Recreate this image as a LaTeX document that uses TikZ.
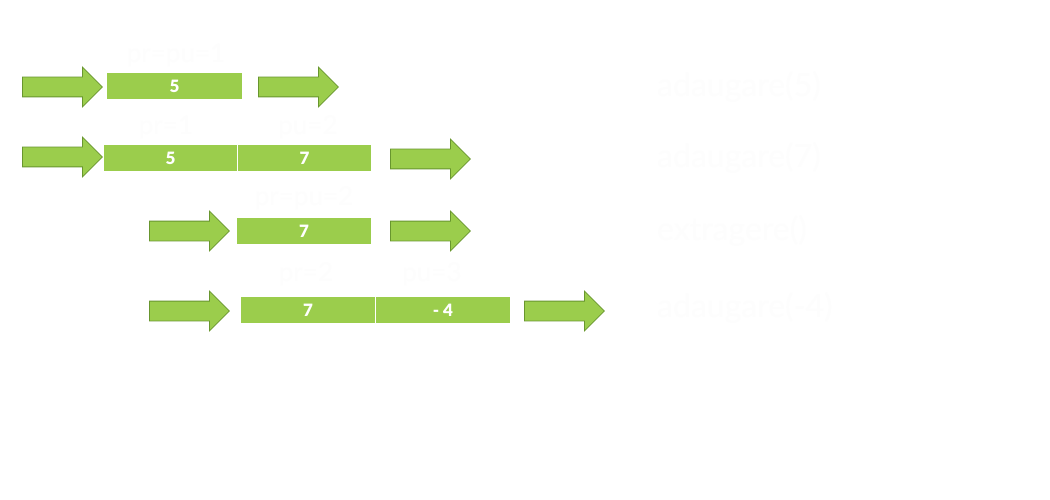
\documentclass[tikz,border=0pt]{standalone}
\usepackage{fontspec}
\setmainfont{Lato}
\newfontfamily\numfont{Lato Black}
\usetikzlibrary{shapes.arrows}
\definecolor{boxgreen}{RGB}{155,205,76}
\definecolor{arrowedge}{RGB}{104,150,46}
\definecolor{faint}{RGB}{253,253,253}
\tikzset{
  garrow/.style={single arrow, draw=arrowedge, line width=0.8pt, fill=boxgreen,
    inner sep=9.5pt, single arrow head extend=10pt, minimum height=80pt,
    anchor=west},
  cell/.style={rectangle, fill=boxgreen, draw=none, minimum height=26pt,
    inner sep=0pt, text=white, font=\numfont\fontsize{17}{19}\selectfont},
  ptr/.style={text=faint, font=\fontsize{26}{30}\selectfont, inner sep=0pt},
  op/.style={text=faint, font=\fontsize{32}{36}\selectfont, inner sep=0pt, anchor=west}
}
\begin{document}
\begin{tikzpicture}[x=1pt,y=-1pt]
\useasboundingbox[fill=white] (0,0) rectangle (1050,500);
% row 1
\node[garrow] (L1) at (22,87) {};
\node[cell, minimum width=135pt] (b1) at (174.5,86) {5};
\node[garrow] (R1) at (258,87) {};
\node[ptr] (p1) at (176,55) {pr=pu=1};
% row 2
\node[garrow] (L2) at (22,157) {};
\node[cell, minimum width=133pt] (b2a) at (170.5,158) {5};
\node[cell, minimum width=133pt] (b2b) at (304.5,158) {7};
\node[garrow] (R2) at (390,159) {};
\node[ptr] (p2a) at (166,127) {pr=1};
\node[ptr] (p2b) at (308,127) {pu=2};
% row 3
\node[garrow] (L3) at (149,231) {};
\node[cell, minimum width=134pt] (b3) at (304,231) {7};
\node[garrow] (R3) at (390,231) {};
\node[ptr] (p3) at (304,198) {pr=pu=2};
% row 4
\node[garrow] (L4) at (149,311) {};
\node[cell, minimum width=134pt] (b4a) at (308,310) {7};
\node[cell, minimum width=134pt] (b4b) at (443,310) {- 4};
\node[garrow] (R4) at (524,311) {};
\node[ptr] (p4a) at (306,274) {pr=2};
\node[ptr] (p4b) at (432,274) {pu=3};
% operations
\node[op] (o1) at (657,87) {adaugare(5)};
\node[op] (o2) at (657,158) {adaugare(7)};
\node[op] (o3) at (657,231) {extragere()};
\node[op] (o4) at (657,308) {adaugare(-4)};
\end{tikzpicture}
\end{document}
